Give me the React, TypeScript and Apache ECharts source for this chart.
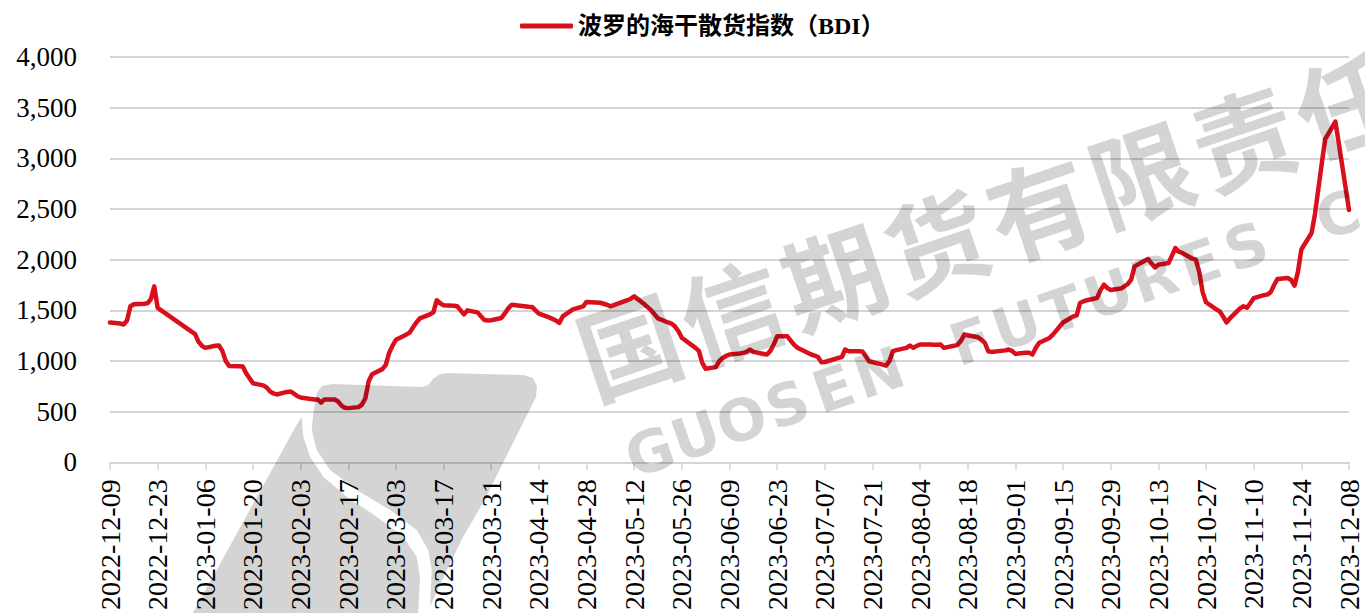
import React, { useEffect, useRef } from 'react';
import * as echarts from 'echarts';

// BDI daily closes (business days)
const dates: string[] = [
  '2022-12-09','2022-12-12','2022-12-13','2022-12-14','2022-12-15','2022-12-16','2022-12-19','2022-12-20','2022-12-21','2022-12-22','2022-12-23',
  '2023-01-03','2023-01-04','2023-01-05','2023-01-06','2023-01-09','2023-01-10','2023-01-11','2023-01-12','2023-01-13','2023-01-16','2023-01-17','2023-01-18','2023-01-19','2023-01-20','2023-01-23','2023-01-24','2023-01-25','2023-01-26','2023-01-27','2023-01-30','2023-01-31',
  '2023-02-01','2023-02-02','2023-02-03','2023-02-06','2023-02-07','2023-02-08','2023-02-09','2023-02-10','2023-02-13','2023-02-14','2023-02-15','2023-02-16','2023-02-17','2023-02-20','2023-02-21','2023-02-22','2023-02-23','2023-02-24','2023-02-27','2023-02-28',
  '2023-03-01','2023-03-02','2023-03-03','2023-03-06','2023-03-07','2023-03-08','2023-03-09','2023-03-10','2023-03-13','2023-03-14','2023-03-15','2023-03-16','2023-03-17','2023-03-20','2023-03-21','2023-03-22','2023-03-23','2023-03-24','2023-03-27','2023-03-28','2023-03-29','2023-03-30','2023-03-31',
  '2023-04-03','2023-04-04','2023-04-05','2023-04-06','2023-04-11','2023-04-12','2023-04-13','2023-04-14','2023-04-17','2023-04-18','2023-04-19','2023-04-20','2023-04-21','2023-04-24','2023-04-25','2023-04-26','2023-04-27','2023-04-28',
  '2023-05-02','2023-05-03','2023-05-04','2023-05-05','2023-05-09','2023-05-10','2023-05-11','2023-05-12','2023-05-15','2023-05-16','2023-05-17','2023-05-18','2023-05-19','2023-05-22','2023-05-23','2023-05-24','2023-05-25','2023-05-26','2023-05-30','2023-05-31',
  '2023-06-01','2023-06-02','2023-06-05','2023-06-06','2023-06-07','2023-06-08','2023-06-09','2023-06-12','2023-06-13','2023-06-14','2023-06-15','2023-06-16','2023-06-19','2023-06-20','2023-06-21','2023-06-22','2023-06-23','2023-06-26','2023-06-27','2023-06-28','2023-06-29','2023-06-30',
  '2023-07-03','2023-07-04','2023-07-05','2023-07-06','2023-07-07','2023-07-10','2023-07-11','2023-07-12','2023-07-13','2023-07-14','2023-07-17','2023-07-18','2023-07-19','2023-07-20','2023-07-21','2023-07-24','2023-07-25','2023-07-26','2023-07-27','2023-07-28','2023-07-31',
  '2023-08-01','2023-08-02','2023-08-03','2023-08-04','2023-08-07','2023-08-08','2023-08-09','2023-08-10','2023-08-11','2023-08-14','2023-08-15','2023-08-16','2023-08-17','2023-08-18','2023-08-21','2023-08-22','2023-08-23','2023-08-24','2023-08-25','2023-08-29','2023-08-30','2023-08-31',
  '2023-09-01','2023-09-04','2023-09-05','2023-09-06','2023-09-07','2023-09-08','2023-09-11','2023-09-12','2023-09-13','2023-09-14','2023-09-15','2023-09-18','2023-09-19','2023-09-20','2023-09-21','2023-09-22','2023-09-25','2023-09-26','2023-09-27','2023-09-28','2023-09-29',
  '2023-10-02','2023-10-03','2023-10-04','2023-10-05','2023-10-06','2023-10-09','2023-10-10','2023-10-11','2023-10-12','2023-10-13','2023-10-16','2023-10-17','2023-10-18','2023-10-19','2023-10-20','2023-10-23','2023-10-24','2023-10-25','2023-10-26','2023-10-27','2023-10-30','2023-10-31',
  '2023-11-01','2023-11-02','2023-11-03','2023-11-06','2023-11-07','2023-11-08','2023-11-09','2023-11-10','2023-11-13','2023-11-14','2023-11-15','2023-11-16','2023-11-17','2023-11-20','2023-11-21','2023-11-22','2023-11-23','2023-11-24','2023-11-27','2023-11-28','2023-11-29','2023-11-30',
  '2023-12-01','2023-12-04','2023-12-05','2023-12-06','2023-12-07','2023-12-08',
];

const bdi: number[] = [
  1380,1370,1360,1400,1540,1560,1566,1570,1610,1737,1524,
  1265,1190,1150,1130,1150,1153,1100,1000,950,949,945,880,830,780,760,740,700,680,670,695,700,
  680,655,640,625,620,621,590,621,620,600,560,539,535,545,570,630,800,870,920,960,
  1080,1150,1210,1260,1280,1330,1380,1420,1460,1480,1600,1570,1550,1545,1540,1500,1460,1500,1480,1440,1405,1400,1402,
  1425,1470,1520,1555,1535,1534,1500,1468,1430,1416,1400,1376,1440,1510,1520,1530,1540,1583,
  1575,1565,1555,1540,1589,1600,1615,1638,1560,1530,1500,1460,1420,1380,1369,1340,1294,1230,1130,1100,
  982,923,940,1000,1030,1050,1064,1074,1080,1090,1113,1090,1070,1064,1100,1163,1244,1244,1200,1160,1130,1113,
  1064,1054,1040,988,990,1020,1031,1040,1113,1097,1097,1095,1050,998,990,965,955,1000,1097,1107,1130,
  1153,1130,1150,1163,1163,1160,1160,1163,1130,1150,1160,1200,1261,1255,1235,1210,1180,1097,1090,1105,1113,1100,
  1070,1081,1081,1064,1130,1180,1228,1260,1300,1340,1380,1441,1450,1573,1589,1600,1622,1700,1754,1720,1700,
  1715,1737,1760,1803,1934,1990,2007,1960,1924,1950,1967,2040,2115,2080,2066,2010,2000,1880,1680,1580,1510,1490,
  1440,1380,1420,1520,1540,1525,1570,1620,1650,1655,1680,1750,1810,1820,1800,1744,1880,2100,2263,2450,2700,2950,
  3190,3363,3150,2930,2710,2490,
];

const seriesName = '波罗的海干散货指数（BDI）';
const axisStart = '2022-12-09';
const axisEnd = '2023-12-08';
const tickDays = 14;
const yTicks = { min: 0, max: 4000, step: 500 };

// watermark, as far as it is visible in the picture
const watermarkCN = '国信期货有限责任';
const watermarkEN = 'GUOSEN FUTURES C';

const DAY = 86400000;
const t0 = Date.parse(axisStart + 'T00:00:00Z');
const dayIndex = (s: string) => Math.round((Date.parse(s + 'T00:00:00Z') - t0) / DAY);
const dayLabel = (d: number) => new Date(t0 + d * DAY).toISOString().slice(0, 10);

const SERIF = "'Liberation Serif', 'Times New Roman', 'Noto Sans CJK SC', serif";
const WM_FILL = 'rgba(0,0,0,0.17)';

function buildWatermark(): any[] {
  const els: any[] = [];
  const a1 = (18.65 * Math.PI) / 180;
  const p1 = 108.1;
  Array.from(watermarkCN).forEach((ch, i) => {
    els.push({
      type: 'text',
      x: 628 + i * p1 * Math.cos(a1),
      y: 342 - i * p1 * Math.sin(a1),
      rotation: a1,
      silent: true,
      z: 100,
      style: {
        text: ch,
        fill: WM_FILL,
        font: "bold 102px 'Noto Sans CJK SC'",
        align: 'center',
        verticalAlign: 'middle',
        textAlign: 'center',
        textVerticalAlign: 'middle',
      },
    });
  });
  const a2 = (19 * Math.PI) / 180;
  const p2 = 48.5;
  Array.from(watermarkEN).forEach((ch, i) => {
    if (ch === ' ') return;
    els.push({
      type: 'text',
      x: 650 + i * p2 * Math.cos(a2),
      y: 452 - i * p2 * Math.sin(a2),
      rotation: a2,
      silent: true,
      z: 100,
      style: {
        text: ch,
        fill: WM_FILL,
        font: "bold 58px 'DejaVu Sans'",
        align: 'center',
        verticalAlign: 'middle',
        textAlign: 'center',
        textVerticalAlign: 'middle',
      },
    });
  });
  // logo: two gray pieces separated by a white S-curve
  els.push({
    type: 'polygon',
    silent: true,
    z: 100,
    shape: {
      points: [
        [301.7, 416.7], [296, 426], [189, 620], [418, 620], [418.3, 613], [420, 576.7], [416.7, 556.7],
        [403.3, 536.7], [376.7, 516.7], [346.7, 496.7], [323.3, 476.7], [310, 456.7], [303.3, 436.7],
      ],
    },
    style: { fill: WM_FILL },
  });
  els.push({
    type: 'polygon',
    silent: true,
    z: 100,
    shape: {
      points: [
        [316.7, 393.3], [322, 386], [332, 384], [422, 387], [428, 385], [433, 379], [440, 374], [448, 373],
        [524, 375], [533, 378], [537, 386], [536, 397], [503, 463], [483, 503], [463, 537], [447, 570],
        [434, 598], [430, 606], [431.7, 570], [428.3, 550], [416.7, 530], [390, 510], [356.7, 490],
        [330, 470], [316.7, 450], [311.7, 430], [313.3, 413.3],
      ],
    },
    style: { fill: WM_FILL },
  });
  return els;
}

export default function App() {
  const ref = useRef<HTMLDivElement>(null);
  useEffect(() => {
    if (!ref.current) return;
    const chart = echarts.init(ref.current, null, { renderer: 'svg' });
    const data = dates.map((d, i) => [dayIndex(d), bdi[i]]);
    chart.setOption({
      animation: false,
      backgroundColor: '#ffffff',
      grid: { left: 110, right: 16, top: 57, bottom: 150, containLabel: false },
      legend: {
        data: [seriesName],
        left: 515,
        top: 9,
        icon: 'roundRect',
        itemWidth: 53,
        itemHeight: 5,
        itemGap: 10,
        textStyle: { fontSize: 24, fontFamily: SERIF, fontWeight: 'bold', color: '#000' },
      },
      xAxis: {
        type: 'value',
        min: 0,
        max: dayIndex(axisEnd),
        interval: tickDays,
        axisLine: { show: true, lineStyle: { color: '#d4d4d4', width: 2 } },
        axisTick: { show: true, length: 8, lineStyle: { color: '#d4d4d4', width: 1.5 } },
        splitLine: { show: false },
        axisLabel: {
          rotate: 90,
          margin: 17,
          fontSize: 28,
          fontFamily: SERIF,
          color: '#000',
          formatter: (v: number) => dayLabel(v),
        },
      },
      yAxis: {
        type: 'value',
        min: yTicks.min,
        max: yTicks.max,
        interval: yTicks.step,
        axisLine: { show: false },
        axisTick: { show: false },
        splitLine: { show: true, lineStyle: { color: '#d4d4d4', width: 2 } },
        axisLabel: {
          margin: 33,
          fontSize: 27,
          fontFamily: SERIF,
          color: '#000',
          formatter: (v: number) => v.toLocaleString('en-US'),
        },
      },
      series: [
        {
          name: seriesName,
          type: 'line',
          data,
          symbol: 'none',
          showSymbol: false,
          color: '#d9101c',
          lineStyle: { color: '#d9101c', width: 4.5, join: 'round', cap: 'round' },
          itemStyle: { color: '#d9101c' },
        },
      ],
      graphic: buildWatermark(),
    });
    return () => chart.dispose();
  }, []);
  return <div ref={ref} style={{ position: 'fixed', left: 0, top: 0, width: 1365, height: 613 }} />;
}
